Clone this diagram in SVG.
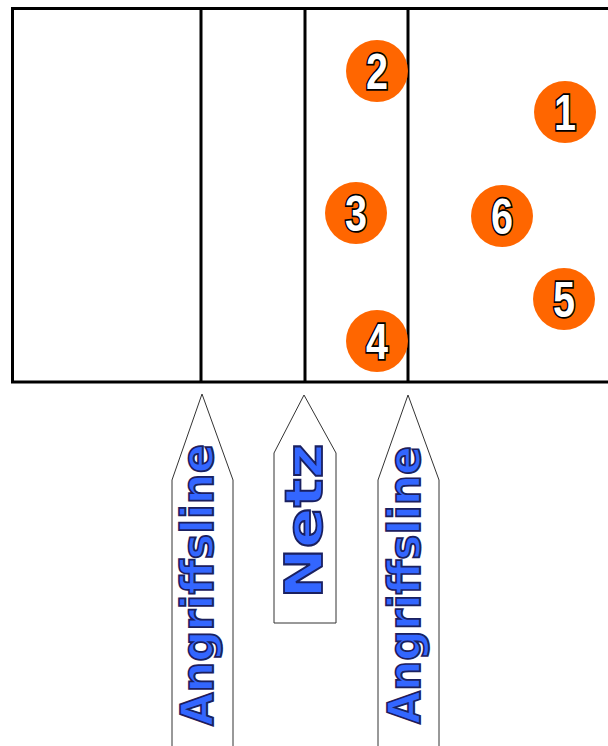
<svg xmlns="http://www.w3.org/2000/svg" width="608" height="746" viewBox="0 0 608 746">
<style>
.court{stroke:#000;stroke-width:3;fill:none}
.pl{fill:#ff6600}
.num{font-family:"Liberation Sans",Arial,sans-serif;font-weight:bold;font-size:50px;fill:#fff;stroke:#000;stroke-width:3.5;paint-order:stroke;text-anchor:middle}
.tag{fill:#fff;stroke:#333;stroke-width:1}
.lbl{font-family:"DejaVu Sans",sans-serif;font-weight:bold;fill:#3366ff;stroke:#1a2060;stroke-width:1.8;text-anchor:middle}
</style>
<rect width="608" height="746" fill="#fff"/>
<g id="court">
<path class="court" d="M608 8.5H12.5V382H608M201 8.5V382M305 8.5V382M408 8.5V382"/>
</g>
<g id="p2"><circle class="pl" cx="377" cy="71" r="31"/><text class="num" x="377" y="89" textLength="22" lengthAdjust="spacingAndGlyphs">2</text></g>
<g id="p1"><circle class="pl" cx="565" cy="112" r="31"/><text class="num" x="565" y="130" textLength="22" lengthAdjust="spacingAndGlyphs">1</text></g>
<g id="p3"><circle class="pl" cx="356" cy="213" r="31"/><text class="num" x="356" y="231" textLength="22" lengthAdjust="spacingAndGlyphs">3</text></g>
<g id="p6"><circle class="pl" cx="502" cy="216" r="31"/><text class="num" x="502" y="234" textLength="22" lengthAdjust="spacingAndGlyphs">6</text></g>
<g id="p5"><circle class="pl" cx="564" cy="299" r="31"/><text class="num" x="564" y="317" textLength="22" lengthAdjust="spacingAndGlyphs">5</text></g>
<g id="p4"><circle class="pl" cx="377" cy="341" r="31"/><text class="num" x="377" y="359" textLength="22" lengthAdjust="spacingAndGlyphs">4</text></g>
<g id="tag-left">
<path class="tag" d="M202 394L233 480V750H172V480Z"/>
<text class="lbl" font-size="45" transform="translate(213 585) rotate(-90)" textLength="282" lengthAdjust="spacingAndGlyphs">Angriffsline</text>
</g>
<g id="tag-net">
<path class="tag" d="M304 395L336 453V623H274V453Z"/>
<text class="lbl" font-size="52" transform="translate(322 521) rotate(-90)" textLength="155" lengthAdjust="spacingAndGlyphs">Netz</text>
</g>
<g id="tag-right">
<path class="tag" d="M408 395L439 480V750H378V480Z"/>
<text class="lbl" font-size="45" transform="translate(420 585) rotate(-90)" textLength="278" lengthAdjust="spacingAndGlyphs">Angriffsline</text>
</g>
</svg>
